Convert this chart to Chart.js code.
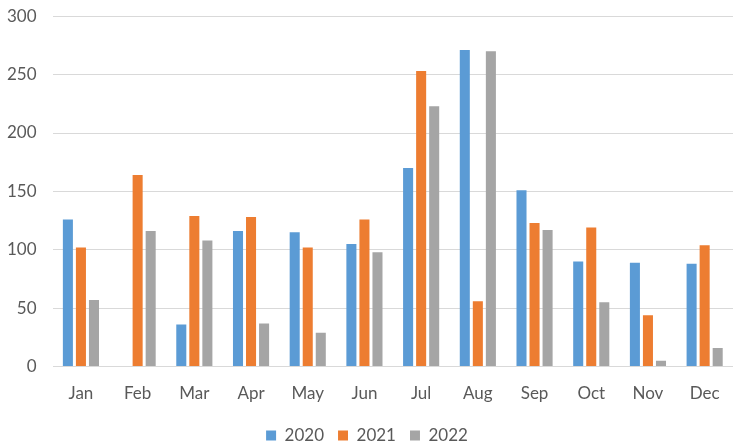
<!DOCTYPE html>
<html lang="en">
<head>
  <meta charset="UTF-8">
  <title>Monthly values 2020-2022</title>
  <script src="https://cdn.jsdelivr.net/npm/chart.js"></script>
  <style>
    html, body {
      margin: 0;
      padding: 0;
      background: #fff;
    }
    .wrap {
      width: 744px;
      height: 447px;
    }
  </style>
</head>
<body>
  <div class="wrap">
    <canvas id="chart" width="744" height="447"></canvas>
  </div>

  <script>
    // Data
    const months = ['Jan', 'Feb', 'Mar', 'Apr', 'May', 'Jun', 'Jul', 'Aug', 'Sep', 'Oct', 'Nov', 'Dec'];
    const values2020 = [126, 0, 36, 116, 115, 105, 170, 271, 151, 90, 89, 88];
    const values2021 = [102, 164, 129, 128, 102, 126, 253, 56, 123, 119, 44, 104];
    const values2022 = [57, 116, 108, 37, 29, 98, 223, 270, 117, 55, 5, 16];
    const yTicks = [0, 50, 100, 150, 200, 250, 300];

    const textColor = '#595959';
    const gridColor = '#d9d9d9';
    const fontFamily = 'Lato, "Open Sans", sans-serif';

    function series(label, data, color) {
      return {
        label: label,
        data: data,
        backgroundColor: color,
        borderWidth: 0,
        categoryPercentage: 0.69,
        barPercentage: 0.77
      };
    }

    const ctx = document.getElementById('chart').getContext('2d');
    new Chart(ctx, {
      type: 'bar',
      data: {
        labels: months,
        datasets: [
          series('2020', values2020, '#5b9bd5'),
          series('2021', values2021, '#ed7d31'),
          series('2022', values2022, '#a5a5a5')
        ]
      },
      options: {
        responsive: false,
        animation: false,
        layout: {
          padding: { top: 16, right: 11, left: 1, bottom: -7 }
        },
        scales: {
          x: {
            grid: { display: false },
            border: { display: false },
            ticks: {
              color: textColor,
              font: { family: fontFamily, size: 17 },
              padding: 9
            }
          },
          y: {
            min: 0,
            max: 300,
            afterBuildTicks: function(axis) {
              axis.ticks = yTicks.map(function(v) { return { value: v }; });
            },
            grid: {
              color: gridColor,
              lineWidth: 1,
              // invisible tick marks only widen the gap before the labels
              drawTicks: true,
              tickLength: 10,
              tickColor: 'rgba(0,0,0,0)'
            },
            border: { display: false },
            ticks: {
              color: textColor,
              font: { family: fontFamily, size: 17 },
              padding: 6
            }
          }
        },
        plugins: {
          tooltip: { enabled: false },
          legend: {
            position: 'bottom',
            labels: {
              color: textColor,
              font: { family: fontFamily, size: 17 },
              boxWidth: 10,
              boxHeight: 10,
              padding: 14
            }
          }
        }
      }
    });
  </script>
</body>
</html>
